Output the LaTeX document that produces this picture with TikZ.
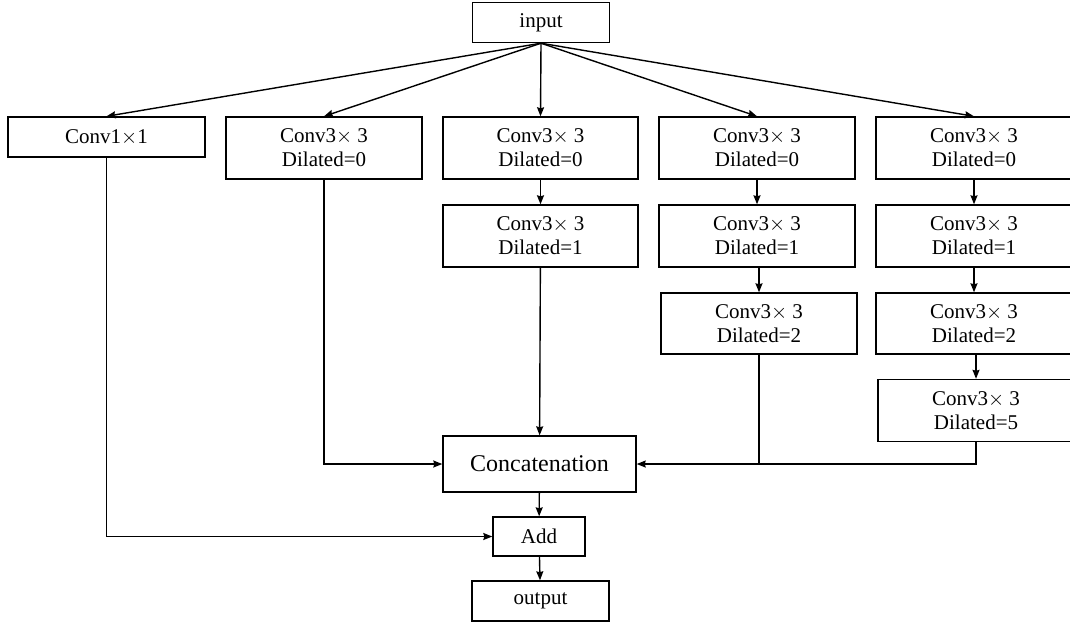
\documentclass[tikz,border=0pt]{standalone}
\usepackage{fontspec}
\setmainfont{Liberation Serif}
\usetikzlibrary{arrows.meta,positioning}

\begin{document}
\begin{tikzpicture}[
    x=1pt, y=-1pt,
    every node/.style={font=\fontsize{21}{24}\selectfont},
    blk/.style={draw, line width=1.4pt, inner sep=0pt, align=center, minimum width=196pt, minimum height=62pt},
    io/.style={blk, minimum width=137pt, minimum height=40pt},
    link/.style={line width=1.4pt, -{Stealth[length=9pt,width=7pt,inset=1pt]}},
    wire/.style={line width=1.4pt}
  ]
  \useasboundingbox (0,0) rectangle (1070,625);
  \node[io] (in) at (541,22.5) {input};
  \node[blk, minimum width=197pt, minimum height=40pt] (c1) at (106.5,137) {Conv1$\times$1};
  \node[blk] (c2) at (324,148) {Conv3$\times$ 3\\Dilated=0};
  \node[blk, minimum width=195pt] (c3a) at (540.5,148) {Conv3$\times$ 3\\Dilated=0};
  \node[blk, minimum width=195pt] (c3b) at (540.5,236) {Conv3$\times$ 3\\Dilated=1};
  \node[blk] (c4a) at (757,148) {Conv3$\times$ 3\\Dilated=0};
  \node[blk] (c4b) at (757,236) {Conv3$\times$ 3\\Dilated=1};
  \node[blk, minimum height=61pt] (c4c) at (759,323.5) {Conv3$\times$ 3\\Dilated=2};
  \node[blk] (c5a) at (974,148) {Conv3$\times$ 3\\Dilated=0};
  \node[blk] (c5b) at (974,236) {Conv3$\times$ 3\\Dilated=1};
  \node[blk, minimum height=61pt] (c5c) at (974,323.5) {Conv3$\times$ 3\\Dilated=2};
  \node[blk] (c5d) at (976,410.5) {Conv3$\times$ 3\\Dilated=5};
  \node[blk, minimum width=193pt, minimum height=56pt, font=\fontsize{24}{28}\selectfont] (cat) at (539.5,464) {Concatenation};
  \node[io, minimum width=92pt, minimum height=39pt] (add) at (539,536.5) {Add};
  \node[io] (out) at (540.5,601) {output};

  \foreach \t in {c1,c2,c3a,c4a,c5a}
    \draw[link] (in.south) -- (\t.north);
  \draw[link] (c3a) -- (c3b);
  \draw[link] (c4a) -- (c4b);
  \draw[link] (c4b.south) -- (c4b.south -| c4c.north) -- (c4c.north);
  \draw[link] (c5a) -- (c5b);
  \draw[link] (c5b) -- (c5c);
  \draw[link] (c5c.south) -- (c5c.south -| c5d.north) -- (c5d.north);
  \draw[link] (c3b) -- (cat);
  \draw[link] (c2.south) |- (cat.west);
  \draw[wire] (c4c.south) -- (c4c.south |- cat.east);
  \draw[link] (c5d.south) |- (cat.east);
  \draw[link] (c1.south) |- (add.west);
  \draw[link] (cat) -- (add);
  \draw[link] (add) -- (out);
\end{tikzpicture}
\end{document}
